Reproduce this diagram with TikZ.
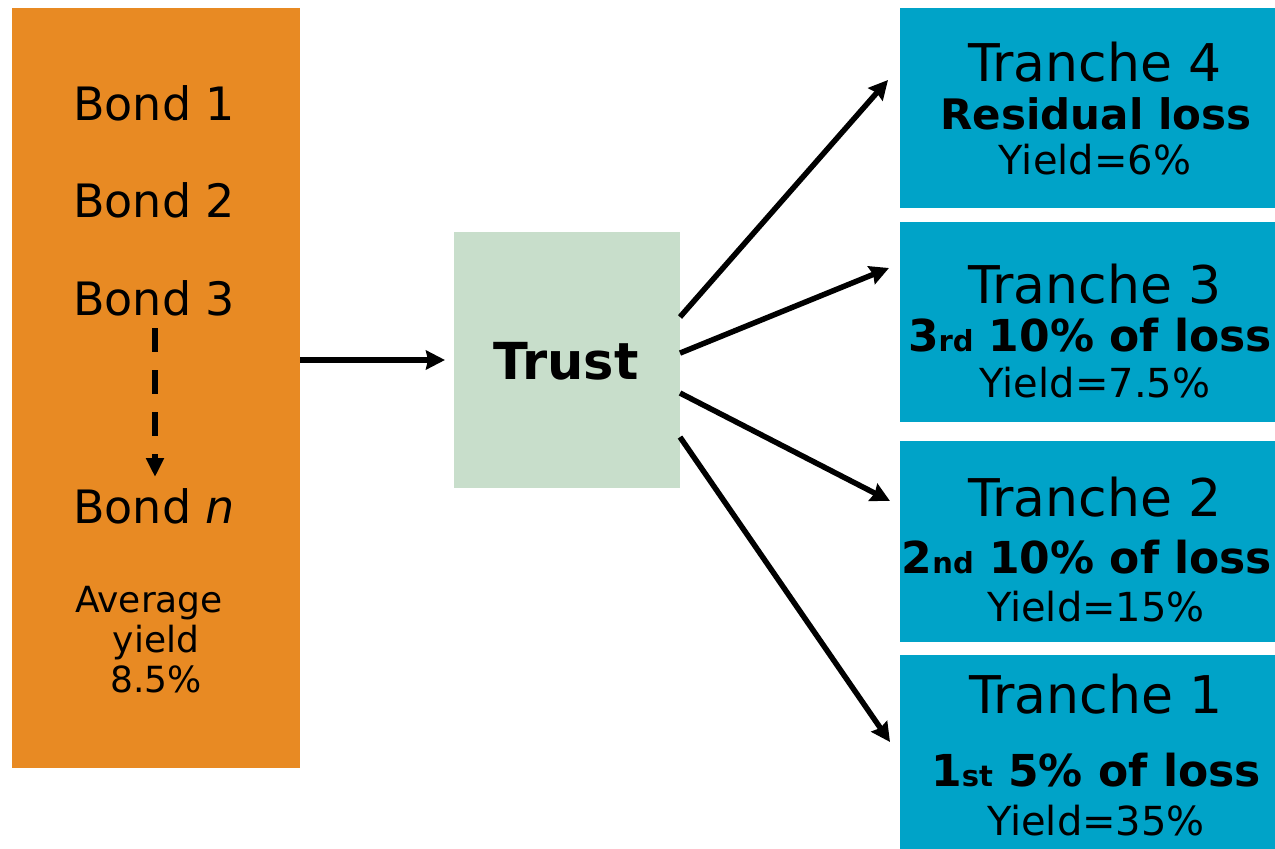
\documentclass[tikz,border=0pt]{standalone}
\usepackage{fontspec}
\setmainfont{DejaVu Sans}
\usetikzlibrary{arrows.meta,calc}
\definecolor{bondorange}{RGB}{232,138,35}
\definecolor{trustgreen}{RGB}{200,222,203}
\definecolor{tranblue}{RGB}{0,163,200}
\begin{document}
\begin{tikzpicture}[x=1pt,y=-1pt,
  panel/.style={draw=none,inner sep=0pt,outer sep=0pt},
  bondtxt/.style={anchor=base west,inner sep=0pt,font=\fontsize{46}{50}\selectfont},
  avgtxt/.style={anchor=base,inner sep=0pt,font=\fontsize{36}{40}\selectfont},
  trtitle/.style={anchor=base,inner sep=0pt,font=\fontsize{52}{56}\selectfont},
  trloss/.style={anchor=base,inner sep=0pt,font=\fontsize{42}{46}\selectfont\bfseries},
  trord/.style={anchor=base,inner sep=0pt,font=\fontsize{44}{48}\selectfont\bfseries},
  tryield/.style={anchor=base,inner sep=0pt,font=\fontsize{40}{44}\selectfont},
  arr/.style={line width=5.5pt,-{Stealth[length=19pt,width=19pt,inset=2pt]}},
  dasharr/.style={line width=6pt,dash pattern=on 24pt off 18pt,-{Triangle[length=19pt,width=17pt]}}]
\useasboundingbox (0,0) rectangle (1275,849);

% panels
\node[panel,fill=bondorange,minimum width=288pt,minimum height=760pt] (bonds) at (156,387.5) {};
\node[panel,fill=trustgreen,minimum width=226pt,minimum height=256pt] (trust) at (567,360) {};
\node[panel,fill=tranblue,minimum width=375pt,minimum height=200pt] (t4) at (1087.5,108) {};
\node[panel,fill=tranblue,minimum width=375pt,minimum height=200pt] (t3) at (1087.5,322) {};
\node[panel,fill=tranblue,minimum width=375pt,minimum height=201pt] (t2) at (1087.5,541.5) {};
\node[panel,fill=tranblue,minimum width=375pt,minimum height=194pt] (t1) at (1087.5,752) {};

% bond texts
\node[bondtxt] (b1) at (73,120) {Bond 1};
\node[bondtxt] (b2) at (73,217) {Bond 2};
\node[bondtxt] (b3) at (73,315) {Bond 3};
\node[bondtxt] (bn) at (73,523) {Bond \textit{n}};
\node[avgtxt] (avg1) at (149,612) {Average};
\node[avgtxt] (avg2) at (156,652) {yield};
\node[avgtxt] (avg3) at (156,692) {8.5\%};

% trust text
\node[anchor=base,inner sep=0pt,font=\fontsize{51}{55}\selectfont\bfseries] (trusttxt) at (566,379) {Trust};

% tranche texts
\node[trtitle] (t4a) at (1095,81) {Tranche 4};
\node[trloss] (t4b) at (1096,129) {Residual loss};
\node[tryield] (t4c) at (1095,174) {Yield=6\%};

\node[trtitle] (t3a) at (1095,303) {Tranche 3};
\node[trord] (t3b) at (1090,351) {3{\fontsize{29}{31}\selectfont rd} 10\% of loss};
\node[tryield] (t3c) at (1095,397) {Yield=7.5\%};

\node[trtitle] (t2a) at (1095,516) {Tranche 2};
\node[trord] (t2b) at (1087,573) {2{\fontsize{29}{31}\selectfont nd} 10\% of loss};
\node[tryield] (t2c) at (1096,621) {Yield=15\%};

\node[trtitle] (t1a) at (1096,713) {Tranche 1};
\node[trord] (t1b) at (1096,786) {1{\fontsize{29}{31}\selectfont st} 5\% of loss};
\node[tryield] (t1c) at (1096,835) {Yield=35\%};

% dashed arrow
\coordinate (dtop) at (155,328);
\coordinate (dbot) at (155,477);
\draw[dasharr] (dtop) -- (dbot);

% connectors
\draw[arr,shorten >=9pt] (bonds.east |- trust.west) -- (trust.west);

\coordinate (s4) at ($(trust.north east)!0.332!(trust.south east)$);
\coordinate (s3) at ($(trust.north east)!0.473!(trust.south east)$);
\coordinate (s2) at ($(trust.north east)!0.629!(trust.south east)$);
\coordinate (s1) at ($(trust.north east)!0.801!(trust.south east)$);
\coordinate (e4) at (888,80);
\coordinate (e3) at (889,268);
\coordinate (e2) at (890,501);
\coordinate (e1) at (890,742);
\draw[arr] (s4) -- (e4);
\draw[arr] (s3) -- (e3);
\draw[arr] (s2) -- (e2);
\draw[arr] (s1) -- (e1);
\end{tikzpicture}
\end{document}
